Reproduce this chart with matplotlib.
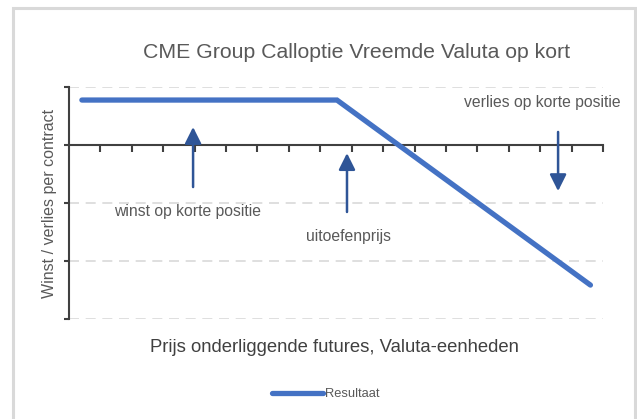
import matplotlib
matplotlib.use("Agg")
import matplotlib.pyplot as plt
from matplotlib.patches import Rectangle

plt.rcParams['font.family'] = ['Liberation Sans', 'DejaVu Sans']

# payoff of the short call (price units on x, result per contract on y)
prijs = [0.41, 8.53, 16.6]
resultaat = [15.5, 15.5, -48.3]

x_ticks = list(range(0, 18))
y_grid = [20, 0, -20, -40, -60]

# annotation arrows: (x, y tail, y head)
pijlen = [(3.95, -14.5, 6.2), (8.85, -23.1, -2.8), (15.57, 4.5, -15.9)]
teksten = [("winst op korte positie", 1.43, -22.8),
           ("uitoefenprijs", 7.55, -31.4),
           ("verlies op korte positie", 12.58, 14.5)]

W, H = 637, 419
fig = plt.figure(figsize=(W / 100, H / 100), dpi=100)
ax = fig.add_axes([69 / W, (H - 319) / H, (603 - 69) / W, (319 - 87) / H])

# chart border
fig.patches.append(Rectangle((13 / W, -0.05), (635 - 13) / W, (H - 8) / H + 0.05,
                             transform=fig.transFigure, fill=False,
                             edgecolor='#d9d9d9', lw=2.2))

axis_col = '#404040'
text_col = '#595959'

for g in y_grid:
    if g != 0:
        ax.axhline(g, color='#d9d9d9', lw=1.2, ls=(0, (6, 4)), zorder=0)

ax.plot(prijs, resultaat, color='#4472C4', lw=3.8, solid_capstyle='round',
        solid_joinstyle='miter', label='Resultaat', zorder=3)

for x, y0, y1 in pijlen:
    ax.annotate('', xy=(x, y1), xytext=(x, y0),
                arrowprops=dict(arrowstyle='-|>,head_width=0.5,head_length=1.0',
                                color='#2F5597', lw=1.8, shrinkA=0, shrinkB=0),
                zorder=4)

for t, x, y in teksten:
    ax.text(x, y, t, fontsize=11.3, color=text_col, va='center', ha='left')

ax.set_xlim(0, 17)
ax.set_ylim(-60, 20)
ax.set_xticks(x_ticks[1:])
ax.set_yticks(y_grid)
ax.set_xticklabels([])
ax.set_yticklabels([])

for s in ['top', 'right']:
    ax.spines[s].set_visible(False)
ax.spines['bottom'].set_position(('data', 0))
ax.spines['bottom'].set_color(axis_col)
ax.spines['left'].set_color(axis_col)
ax.spines['bottom'].set_linewidth(1.5)
ax.spines['left'].set_linewidth(1.5)
ax.tick_params(axis='x', direction='out', length=5, width=1.5, color=axis_col)
ax.tick_params(axis='y', direction='out', length=3.5, width=1.5, color=axis_col)

ax.set_ylabel("Winst / verlies per contract", fontsize=11.5, color=text_col)
ax.yaxis.set_label_coords(-0.022, 0.5)
ax.set_xlabel("Prijs onderliggende futures, Valuta-eenheden", fontsize=13.3, color=axis_col)
ax.xaxis.set_label_coords(0.498, -0.086)

fig.text(357 / W, 1 - 52 / H, "CME Group Calloptie Vreemde Valuta op kort",
         fontsize=15.3, color=text_col, ha='center', va='center')

fig.legend(loc='center', bbox_to_anchor=(326 / W, 1 - 394 / H), frameon=False,
           fontsize=9.3, handlelength=3.9, handletextpad=0.2, labelcolor=text_col)

fig.savefig("out.png", dpi=100)
